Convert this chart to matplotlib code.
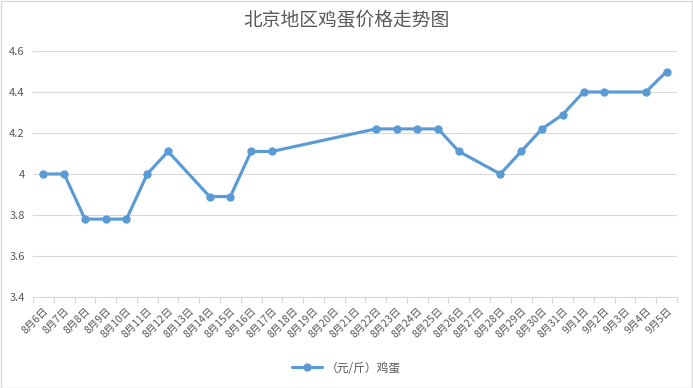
#!/usr/bin/env python3
# -*- coding: utf-8 -*-
"""
    Gráfico de líneas: evolución del precio del huevo en Pekín.
"""

import numpy as np
import matplotlib
matplotlib.use("Agg")
import matplotlib.pyplot as plt
from matplotlib.ticker import FixedLocator

plt.rcParams['font.family'] = ['Noto Sans CJK SC', 'DejaVu Sans']

# Etiquetas del eje x (31 días)
fechas = ["8月%d日" % d for d in range(6, 32)] + ["9月%d日" % d for d in range(1, 6)]

# Precio (元/斤); None = día sin dato
precios = [4.00, 4.00, 3.78, 3.78, 3.78, 4.00, 4.11, None, 3.89, 3.89,
           4.11, 4.11, None, None, None, None, 4.22, 4.22, 4.22, 4.22,
           4.11, None, 4.00, 4.11, 4.22, 4.29, 4.40, 4.40, None, 4.40,
           4.50]

titulo = "北京地区鸡蛋价格走势图"
serie = "（元/斤）鸡蛋"

gris = "#595959"
azul = "#5B9BD5"

fig = plt.figure(figsize=(6.93, 3.88), dpi=100)
ax = fig.add_axes([33 / 693, 1 - 297 / 388, 644 / 693, 246 / 388])

# Sólo los puntos con dato, unidos entre sí
x = [i for i, p in enumerate(precios) if p is not None]
y = [p for p in precios if p is not None]
ax.plot(x, y, color=azul, linewidth=2.25, marker="o", markersize=5,
        label=serie, solid_capstyle="round")

ax.set_xlim(-0.5, len(fechas) - 0.5)
ax.set_ylim(3.4, 4.6)
ax.set_yticks([3.4, 3.6, 3.8, 4.0, 4.2, 4.4, 4.6])
ax.set_yticklabels(["3.4", "3.6", "3.8", "4", "4.2", "4.4", "4.6"])
ax.grid(axis="y", color="#D9D9D9", linewidth=0.8)
ax.set_axisbelow(True)

ax.set_xticks(range(len(fechas)))
ax.set_xticklabels(fechas, rotation=45, ha="right", va="top",
                   rotation_mode="anchor", fontsize=7.5, color=gris)
ax.xaxis.set_minor_locator(FixedLocator(np.arange(-0.5, len(fechas), 1)))
ax.tick_params(axis="x", which="major", length=0, pad=6)
ax.tick_params(axis="x", which="minor", length=4, color="#D9D9D9", width=0.8)
ax.tick_params(axis="y", length=0, labelsize=8, labelcolor=gris, pad=6)

for lado in ["top", "right", "left"]:
    ax.spines[lado].set_visible(False)
ax.spines["bottom"].set_color("#D9D9D9")
ax.spines["bottom"].set_linewidth(0.8)

fig.suptitle(titulo, y=0.975, fontsize=13.5, color=gris)

fig.legend(loc="center", bbox_to_anchor=(0.5, 1 - 368 / 388), frameon=False,
           fontsize=8.5, labelcolor=gris, handlelength=2.5, handletextpad=0.3)

# Borde gris alrededor del gráfico
fig.patches.append(plt.Rectangle((0.001, 0.001), 0.998, 0.997, transform=fig.transFigure,
                                 fill=False, edgecolor="#D9D9D9", linewidth=1))

fig.savefig("out.png", dpi=100)
